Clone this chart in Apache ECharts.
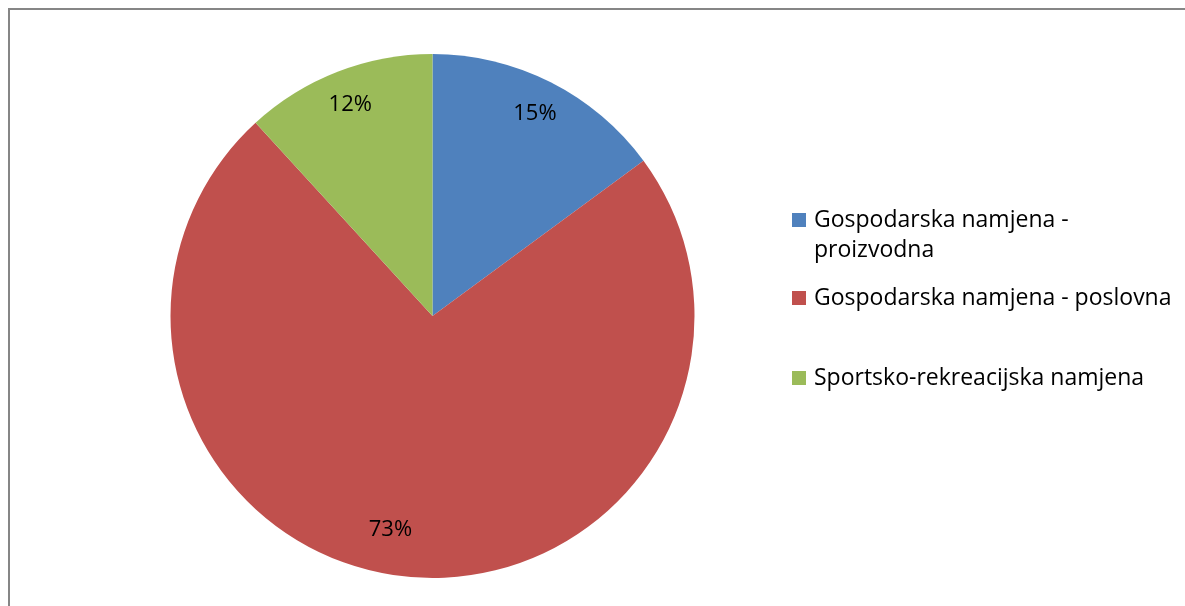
<!DOCTYPE html>
<html>
<head>
<meta charset="utf-8">
<script src="https://cdn.jsdelivr.net/npm/echarts@6/dist/echarts.min.js"></script>
<style>
  html, body { margin: 0; padding: 0; overflow: hidden; background: #fff; }
  #chart { position: absolute; left: 0; top: 0; width: 1185px; height: 606px; }
  #frame { position: absolute; left: 8px; top: 8px; width: 1400px; height: 800px;
           border: 2px solid #868686; pointer-events: none; }
</style>
</head>
<body>
<div id="chart"></div>
<div id="frame"></div>
<script>
// categories and shares (%)
var categories = [
  'Gospodarska namjena - proizvodna',
  'Gospodarska namjena - poslovna',
  'Sportsko-rekreacijska namjena'
];
var shares = [14.9, 73.3, 11.8];
var labels = ['15%', '73%', '12%'];
var colors = ['#4F81BD', '#C0504D', '#9BBB59'];

var font = 'Open Sans';

var pieData = categories.map(function (name, i) {
  return { name: name, value: shares[i], itemStyle: { color: colors[i] } };
});

function legendFor(i, top) {
  return {
    orient: 'vertical',
    left: 792,
    top: top,
    padding: 0,
    data: [categories[i]],
    icon: 'rect',
    itemWidth: 14,
    itemHeight: 14,
    selectedMode: false,
    formatter: function (name) {
      // wrapped like the original; the blank first line keeps the square on line one
      return name === categories[0] ? '\nGospodarska namjena -\nproizvodna' : name;
    },
    textStyle: {
      fontFamily: font,
      fontSize: 23,
      color: '#000',
      lineHeight: 30,
      padding: [0, 0, 0, 3]
    }
  };
}

var chart = echarts.init(document.getElementById('chart'));
chart.setOption({
  animation: false,
  legend: [legendFor(0, 175), legendFor(1, 283), legendFor(2, 363)],
  series: [
    {
      type: 'pie',
      center: [432.5, 316],
      radius: [0, 262],
      startAngle: 90,
      clockwise: true,
      silent: true,
      data: pieData,
      label: { show: false },
      labelLine: { show: false }
    },
    {
      // transparent ring only used to place the percentage labels
      type: 'pie',
      center: [432.5, 316],
      radius: [198, 250],
      startAngle: 90,
      clockwise: true,
      silent: true,
      data: pieData.map(function (d, i) {
        var item = { name: d.name, value: d.value, itemStyle: { color: 'rgba(0,0,0,0)' } };
        if (i === 1) item.label = { offset: [-20, -12] };
        return item;
      }),
      label: {
        show: true,
        position: 'inside',
        fontFamily: font,
        fontSize: 22,
        color: '#000',
        formatter: function (p) { return labels[p.dataIndex]; }
      },
      labelLine: { show: false }
    }
  ]
});
</script>
</body>
</html>
